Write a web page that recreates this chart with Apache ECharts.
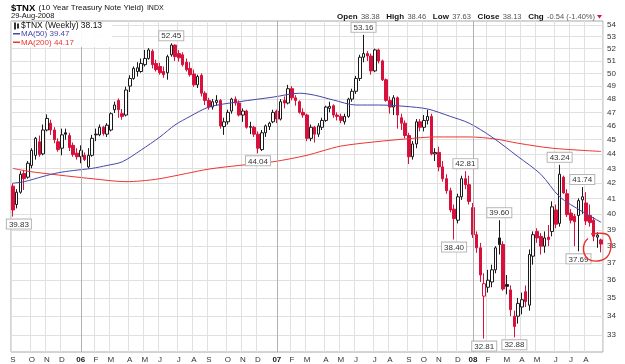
<!DOCTYPE html>
<html>
<head>
<meta charset="utf-8">
<title>$TNX weekly</title>
<script src="https://cdn.jsdelivr.net/npm/echarts@6.0.0/dist/echarts.min.js"></script>
<style>
html, body { margin: 0; padding: 0; background: #fff; }
#chart { width: 625px; height: 364px; }
</style>
</head>
<body>
<div id="chart"></div>
<script>
// weekly candles, week ending Fri 2 Sep 2005 .. Fri 29 Aug 2008 (yield x10)
const open = [
  41.80, 40.60, 41.40, 42.65, 42.40, 43.20, 43.90, 44.85, 44.00, 45.70,
  46.20, 45.70, 44.85, 44.40, 45.50, 45.30, 44.60, 44.05, 43.80, 43.90,
  43.10, 43.90, 45.40, 45.35, 45.90, 45.40, 45.70, 47.20, 47.90, 46.90,
  46.80, 49.00, 49.60, 50.15, 50.15, 50.70, 51.20, 51.80, 50.80, 50.55,
  50.15, 50.05, 51.50, 52.30, 51.60, 51.50, 50.90, 50.40, 49.95, 49.10,
  49.85, 48.45, 47.90, 47.40, 47.75, 47.90, 45.95, 46.30, 47.10, 48.00,
  47.70, 46.80, 47.10, 45.90, 45.90, 45.40, 44.30, 45.50, 45.95, 46.30,
  47.10, 46.50, 47.90, 47.70, 48.80, 48.10, 47.80, 47.00, 46.80, 45.10,
  45.90, 45.40, 45.90, 46.40, 47.30, 47.50, 46.80, 46.70, 46.30, 46.70,
  48.00, 48.60, 49.60, 51.30, 51.60, 51.40, 50.20, 51.90, 51.00, 49.50,
  47.90, 47.40, 48.10, 46.60, 46.20, 45.30, 43.80, 44.70, 46.30, 45.90,
  46.40, 46.70, 44.00, 44.10, 43.10, 42.30, 41.50, 40.30, 39.60, 41.10,
  42.30, 41.90, 40.40, 38.70, 37.90, 35.10, 35.60, 35.90, 36.60, 38.50,
  38.10, 35.75, 35.45, 34.00, 34.00, 34.50, 35.35, 34.60, 37.40, 38.90,
  38.60, 38.00, 38.55, 38.90, 40.25, 39.40, 42.40, 41.30, 40.05, 39.85,
  39.90, 40.90, 40.70, 39.90, 39.60, 38.55, 38.38
];
const high = [
  42.00, 41.60, 42.80, 42.90, 43.50, 44.40, 45.20, 45.30, 46.10, 46.85,
  46.45, 45.90, 45.10, 45.80, 45.80, 45.50, 44.80, 44.40, 44.60, 44.10,
  44.40, 45.35, 45.80, 46.10, 46.00, 46.20, 47.00, 47.80, 48.05, 47.25,
  48.95, 49.85, 50.55, 50.90, 51.20, 51.90, 52.05, 51.95, 51.10, 50.85,
  50.55, 51.50, 52.45, 52.35, 51.90, 51.70, 51.20, 50.90, 50.30, 49.90,
  50.00, 48.60, 48.10, 48.00, 48.30, 48.00, 46.60, 47.20, 48.10, 48.20,
  47.90, 47.30, 47.20, 46.30, 46.00, 45.60, 45.70, 46.10, 46.30, 47.20,
  47.20, 48.00, 48.20, 49.10, 49.00, 48.30, 47.90, 47.30, 46.90, 46.10,
  46.00, 46.20, 46.60, 47.50, 47.80, 47.60, 47.00, 46.90, 46.90, 48.10,
  48.80, 49.80, 51.50, 53.16, 51.80, 51.60, 52.00, 52.00, 51.10, 49.60,
  48.20, 48.30, 48.20, 46.90, 46.40, 45.50, 44.90, 46.50, 46.50, 46.80,
  47.20, 46.90, 44.40, 44.50, 43.50, 42.60, 41.70, 40.60, 41.30, 42.50,
  42.81, 42.50, 40.70, 38.90, 38.20, 36.40, 36.60, 36.90, 38.00, 39.60,
  38.30, 36.30, 35.70, 34.30, 35.00, 35.30, 35.70, 37.80, 38.90, 39.10,
  38.80, 38.90, 39.30, 40.80, 40.60, 43.24, 42.50, 41.60, 40.30, 40.00,
  41.00, 41.74, 41.40, 40.60, 39.80, 38.85, 38.46
];
const low = [
  39.83, 40.35, 41.30, 41.55, 42.30, 43.00, 43.60, 43.80, 43.90, 45.60,
  45.35, 44.75, 44.15, 43.90, 45.00, 44.20, 43.80, 43.60, 43.35, 43.50,
  43.00, 43.80, 44.90, 45.25, 45.30, 45.20, 45.60, 46.95, 46.60, 46.45,
  46.70, 48.55, 49.50, 49.75, 50.05, 50.55, 51.10, 50.40, 50.15, 49.90,
  49.65, 49.50, 51.35, 51.00, 50.95, 50.55, 50.15, 49.75, 48.95, 48.85,
  48.20, 47.55, 47.20, 47.20, 47.50, 45.80, 45.35, 46.10, 46.90, 47.50,
  46.70, 46.30, 45.80, 45.40, 45.20, 44.04, 44.20, 45.20, 45.70, 46.20,
  46.20, 46.40, 47.30, 47.60, 47.90, 47.50, 46.90, 46.60, 44.90, 44.90,
  44.80, 45.20, 45.70, 46.30, 47.00, 46.60, 46.40, 46.20, 46.10, 46.60,
  47.80, 48.40, 49.40, 50.90, 51.00, 49.90, 50.10, 50.80, 49.40, 47.80,
  46.90, 46.80, 45.80, 45.70, 45.10, 43.30, 43.60, 44.40, 45.60, 45.60,
  46.10, 43.90, 43.50, 42.80, 42.10, 41.30, 40.10, 38.40, 39.40, 40.90,
  41.60, 40.60, 38.50, 37.60, 35.90, 32.81, 35.30, 35.60, 36.40, 37.50,
  35.40, 35.20, 34.00, 32.88, 33.60, 34.10, 34.50, 34.30, 36.90, 38.20,
  37.50, 37.60, 38.00, 38.60, 39.10, 39.20, 41.30, 39.80, 39.40, 38.00,
  37.69, 40.00, 39.30, 39.20, 38.30, 37.90, 37.63
];
const close = [
  40.25, 41.40, 42.60, 42.30, 43.35, 44.25, 45.10, 43.95, 45.70, 46.55,
  45.70, 45.00, 44.30, 45.35, 45.40, 44.45, 43.95, 43.80, 44.25, 43.60,
  43.90, 45.10, 45.35, 45.90, 45.45, 46.05, 46.90, 47.55, 47.20, 46.70,
  48.70, 49.60, 50.40, 50.45, 50.80, 51.20, 51.90, 50.70, 50.30, 50.05,
  49.90, 51.35, 52.30, 51.35, 51.25, 50.70, 50.30, 49.90, 49.10, 49.75,
  48.45, 47.90, 47.40, 47.80, 47.90, 46.00, 46.30, 47.00, 48.00, 47.70,
  46.80, 47.10, 45.90, 45.95, 45.40, 44.40, 45.50, 46.00, 46.20, 47.00,
  46.50, 47.80, 47.70, 48.80, 48.10, 47.90, 47.00, 46.80, 45.10, 45.90,
  45.40, 46.00, 46.40, 47.40, 47.45, 46.80, 46.70, 46.40, 46.70, 48.00,
  48.60, 49.60, 51.30, 51.60, 51.40, 50.20, 51.90, 51.00, 49.50, 47.90,
  47.40, 48.10, 46.80, 46.20, 45.30, 43.80, 44.70, 46.30, 45.90, 46.40,
  46.70, 44.00, 44.10, 43.10, 42.30, 41.50, 40.25, 39.70, 41.10, 42.30,
  41.90, 40.80, 38.70, 37.90, 36.30, 35.80, 36.00, 36.60, 37.90, 38.10,
  35.50, 35.65, 34.35, 33.45, 34.70, 34.90, 34.80, 37.50, 38.70, 38.50,
  38.00, 38.50, 38.40, 40.45, 39.35, 42.60, 41.35, 39.95, 39.60, 39.50,
  40.85, 41.10, 39.55, 39.45, 38.60, 38.67, 38.13
];

// moving averages: [week index, value]
const ma50 = [
  [0, 42.0], [3, 42.1], [8, 42.45], [12, 42.7], [16, 42.85], [21, 43.0],
  [25, 43.2], [29, 43.45], [34, 44.27], [39, 45.2], [43, 46.07], [47, 46.7],
  [52, 47.4], [60, 47.8], [69, 48.15], [76, 48.45], [80, 48.3], [85, 47.93],
  [91, 47.55], [97, 47.55], [104, 47.45], [110, 47.25], [116, 46.7], [121, 46.2],
  [127, 45.2], [134, 43.8], [140, 42.6], [145, 41.1], [151, 40.15], [156, 39.47]
];
const ma200 = [
  [0, 43.0], [4, 42.8], [12, 42.55], [21, 42.3], [30, 42.1], [34, 42.15],
  [39, 42.3], [46, 42.65], [52, 42.95], [60, 43.2], [69, 43.45], [78, 43.9],
  [82, 44.2], [87, 44.55], [96, 44.85], [104, 45.05], [112, 45.2], [121, 45.2],
  [128, 45.05], [134, 44.75], [143, 44.4], [156, 44.17]
];

const yTicks = [33, 34, 35, 36, 37, 38, 39, 40, 41, 42, 43, 44, 45, 46, 47, 48, 49, 50, 51, 52, 53, 54];
const monthLetters = ['J', 'F', 'M', 'A', 'M', 'J', 'J', 'A', 'S', 'O', 'N', 'D'];

// weeks whose high / low is labelled on the chart
const highMarks = [42, 93, 120, 129, 145, 151];
const lowMarks = [0, 65, 117, 125, 133, 150];

// week-ending dates (Fridays)
const weeks = [];
const firstFriday = Date.UTC(2005, 8, 2);
for (let i = 0; i < close.length; i++) {
  weeks.push(new Date(firstFriday + i * 7 * 86400000).toISOString().slice(0, 10));
}
function monthStart(i) {
  return i === 0 || weeks[i].slice(5, 7) !== weeks[i - 1].slice(5, 7);
}
function yearStart(i) {
  return monthStart(i) && weeks[i].slice(5, 7) === '01';
}

const RED = '#d8103c';
const BLACK = '#1a1a1a';
const FONT = 'Liberation Sans, Arial, sans-serif';
const ln = Math.log;

// stockcharts colouring: red when close < previous close, hollow when close > open
const candles = close.map((c, i) => {
  const prev = i > 0 ? close[i - 1] : Infinity;
  const edge = c < prev ? RED : BLACK;
  const fill = c > open[i] ? '#fff' : edge;
  return {
    value: [ln(open[i]), ln(c), ln(low[i]), ln(high[i])],
    itemStyle: { color: fill, color0: fill, borderColor: edge, borderColor0: edge }
  };
});

const last = close.length - 1;
const chg = close[last] - close[last - 1];
const chgPct = chg / close[last - 1] * 100;

const markData = highMarks.map(i => ({
  coord: [weeks[i], ln(high[i])], value: high[i].toFixed(2), label: { position: 'top' }
})).concat(lowMarks.map(i => ({
  coord: [weeks[i], ln(low[i])], value: low[i].toFixed(2),
  // the first label is pushed right so it stays inside the picture
  label: { position: 'bottom', offset: [i === 0 ? 6 : 0, 0] }
})));

const chart = echarts.init(document.getElementById('chart'));
chart.setOption({
  animation: false,
  backgroundColor: '#fff',
  textStyle: { fontFamily: FONT },
  grid: {
    left: 11, right: 22, top: 21, bottom: 12,
    show: true, borderColor: '#a8a8a8', borderWidth: 1,
    containLabel: false, outerBoundsMode: 'none'
  },
  xAxis: {
    type: 'category',
    data: weeks,
    boundaryGap: true,
    axisLine: { show: false },
    axisTick: { show: false },
    axisLabel: {
      interval: (i) => monthStart(i),
      fontSize: 8,
      color: '#333',
      margin: 4,
      formatter: (v) => {
        const m = +v.slice(5, 7);
        return m === 1 ? '{y|' + v.slice(2, 4) + '}' : monthLetters[m - 1];
      },
      rich: { y: { fontSize: 8, fontWeight: 'bold', color: '#222' } }
    },
    splitLine: {
      show: true,
      interval: (i) => monthStart(i) && !yearStart(i),
      lineStyle: { color: '#e0e0e0', width: 1 }
    }
  },
  yAxis: {
    type: 'value',
    position: 'right',
    scale: true,
    min: ln(32.12),
    max: ln(54.34),
    axisLine: { show: false },
    axisTick: { show: false, customValues: yTicks.map(ln) },
    axisLabel: {
      customValues: yTicks.map(ln),
      fontSize: 8,
      color: '#333',
      margin: 4,
      formatter: (v) => String(Math.round(Math.exp(v)))
    },
    splitLine: { show: true, lineStyle: { color: '#e0e0e0', width: 1 } }
  },
  series: [
    {
      type: 'line',
      name: 'MA(200)',
      data: ma200.map(p => [weeks[p[0]], ln(p[1])]),
      smooth: 0.3,
      symbol: 'none',
      lineStyle: { color: '#ee3434', width: 1 },
      z: 3
    },
    {
      type: 'line',
      name: 'MA(50)',
      data: ma50.map(p => [weeks[p[0]], ln(p[1])]),
      smooth: 0.3,
      symbol: 'none',
      lineStyle: { color: '#4646a8', width: 1 },
      z: 3
    },
    {
      type: 'candlestick',
      name: '$TNX',
      data: candles,
      barWidth: 3,
      itemStyle: { borderWidth: 1 },
      z: 2,
      markLine: {
        silent: true,
        symbol: ['none', 'none'],
        label: { show: false },
        lineStyle: { color: '#b0b0b0', type: 'solid', width: 1 },
        data: weeks.filter((w, i) => yearStart(i)).map(w => ({ xAxis: w }))
      },
      markPoint: {
        silent: true,
        symbol: 'circle',
        symbolSize: 0,
        label: {
          formatter: '{c}',
          fontSize: 8,
          color: '#333',
          backgroundColor: '#fff',
          borderColor: '#b5b5b5',
          borderWidth: 1,
          padding: [1, 2, 0, 2],
          distance: 3
        },
        data: markData
      }
    }
  ],
  graphic: [
    {
      type: 'text', x: 11, y: 2,
      style: {
        text: '{a|$TNX} {b|(10 Year Treasury Note Yield)} {c|INDX}',
        rich: {
          a: { fontSize: 9.5, fontWeight: 'bold', fill: '#000', fontFamily: FONT },
          b: { fontSize: 8, fill: '#111', fontFamily: FONT },
          c: { fontSize: 7, fill: '#111', fontFamily: FONT }
        }
      }
    },
    {
      type: 'text', x: 11, y: 12,
      style: { text: '29-Aug-2008', fontSize: 7.5, fill: '#111', fontFamily: FONT }
    },
    {
      type: 'text', x: 595, y: 11, style: {
        align: 'right',
        text: '{l|Open} {v|' + open[last].toFixed(2) + '}  {l|High} {v|' + high[last].toFixed(2) +
          '}  {l|Low} {v|' + low[last].toFixed(2) + '}  {l|Close} {v|' + close[last].toFixed(2) +
          '}  {l|Chg} {v|' + chg.toFixed(2) + ' (' + chgPct.toFixed(2) + '%)}',
        rich: {
          l: { fontSize: 8, fontWeight: 'bold', fill: '#111', fontFamily: FONT },
          v: { fontSize: 7.5, fill: '#555', fontFamily: FONT }
        }
      }
    },
    {
      type: 'polygon', shape: { points: [[597, 15], [602, 15], [599.5, 18.5]] },
      style: { fill: RED }
    },
    // legend block inside the plot, on a white ground like the original
    {
      type: 'rect', z: 10, shape: { x: 12, y: 22, width: 100, height: 25 },
      style: { fill: 'rgba(255,255,255,0.92)' }
    },
    { type: 'rect', z: 11, shape: { x: 14, y: 22.5, width: 2, height: 7 }, style: { fill: '#333' } },
    { type: 'rect', z: 11, shape: { x: 17, y: 23.5, width: 2, height: 5 }, style: { fill: '#333' } },
    {
      type: 'text', z: 11, x: 21, y: 21.5,
      style: { text: '$TNX (Weekly) ' + close[last].toFixed(2), fontSize: 8.5, fill: '#111', fontFamily: FONT }
    },
    { type: 'rect', z: 11, shape: { x: 13, y: 33, width: 7, height: 1.5 }, style: { fill: '#4646a8' } },
    {
      type: 'text', z: 11, x: 21, y: 30,
      style: { text: 'MA(50) ' + ma50[ma50.length - 1][1].toFixed(2), fontSize: 8, fill: '#4646a8', fontFamily: FONT }
    },
    { type: 'rect', z: 11, shape: { x: 13, y: 41.5, width: 7, height: 1.5 }, style: { fill: '#ee3434' } },
    {
      type: 'text', z: 11, x: 21, y: 38.5,
      style: { text: 'MA(200) ' + ma200[ma200.length - 1][1].toFixed(2), fontSize: 8, fill: '#ee3434', fontFamily: FONT }
    },
    // hand-drawn ring around the last weeks
    {
      type: 'polyline', z: 12,
      shape: {
        points: [[591, 234], [604, 233.5], [609.5, 237], [611, 247], [607, 257], [598, 261],
          [588, 259], [583.5, 251], [584.5, 243], [588, 238.5]],
        smooth: 0.4
      },
      style: { stroke: '#e8302a', lineWidth: 1.4, fill: null }
    }
  ]
});
</script>
</body>
</html>
